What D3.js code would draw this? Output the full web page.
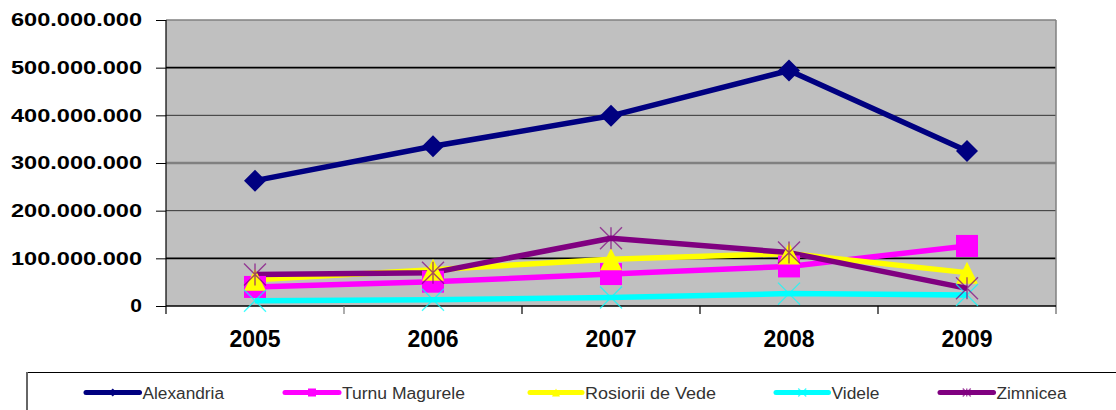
<!DOCTYPE html>
<html>
<head>
<meta charset="utf-8">
<script src="https://cdn.jsdelivr.net/npm/d3@7"></script>
<style>
  html, body { margin: 0; padding: 0; background: #ffffff; }
  svg { display: block; }
</style>
</head>
<body>
<svg id="chart" width="1116" height="410"></svg>
<script>
// ---- data ----
const years = ["2005", "2006", "2007", "2008", "2009"];
const alexandria = [263e6, 335e6, 399e6, 494e6, 325e6];
const turnuMagurele = [40e6, 51e6, 67e6, 83e6, 126e6];
const rosioriiDeVede = [55e6, 76e6, 98e6, 110e6, 70e6];
const videle = [11e6, 13e6, 18e6, 26e6, 23e6];
const zimnicea = [66e6, 70e6, 142e6, 112e6, 37e6];
const yTicks = [0, 100e6, 200e6, 300e6, 400e6, 500e6, 600e6];
const yTickLabels = ["0", "100.000.000", "200.000.000", "300.000.000", "400.000.000", "500.000.000", "600.000.000"];
const seriesNames = ["Alexandria", "Turnu Magurele", "Rosiorii de Vede", "Videle", "Zimnicea"];

const series = [
  { name: seriesNames[0], values: alexandria, color: "#000080", marker: "diamond" },
  { name: seriesNames[1], values: turnuMagurele, color: "#FF00FF", marker: "square" },
  { name: seriesNames[2], values: rosioriiDeVede, color: "#FFFF00", marker: "triangle" },
  { name: seriesNames[3], values: videle, color: "#00FFFF", marker: "x" },
  { name: seriesNames[4], values: zimnicea, color: "#800080", marker: "star" }
];

const svg = d3.select("#chart");
const plot = { left: 166, top: 20, right: 1056, bottom: 306 };

const x = d3.scaleBand().domain(years).range([plot.left, plot.right]).padding(0);
const y = d3.scaleLinear().domain([0, 600e6]).range([plot.bottom, plot.top]);
const cx = d => x(d) + x.bandwidth() / 2;

// plot background
svg.append("rect")
  .attr("x", plot.left).attr("y", plot.top)
  .attr("width", plot.right - plot.left).attr("height", plot.bottom - plot.top)
  .attr("fill", "#C0C0C0");

// gridlines
const gridStyle = {
  100e6: ["#000", 1.6], 200e6: ["#333", 1], 300e6: ["#808080", 2.5],
  400e6: ["#333", 1], 500e6: ["#000", 1.6], 600e6: ["#808080", 1.5]
};
svg.append("g").selectAll("line")
  .data(yTicks.filter(v => v > 0))
  .join("line")
  .attr("x1", plot.left).attr("x2", plot.right)
  .attr("y1", d => y(d)).attr("y2", d => y(d))
  .attr("stroke", d => gridStyle[d][0])
  .attr("stroke-width", d => gridStyle[d][1]);

// right border
svg.append("line")
  .attr("x1", plot.right).attr("x2", plot.right)
  .attr("y1", plot.top).attr("y2", plot.bottom + 8)
  .attr("stroke", "#808080").attr("stroke-width", 1.5);

// y axis
const yAxis = d3.axisLeft(y).tickValues(yTicks).tickSize(10).tickFormat((d, i) => yTickLabels[i]);
const gy = svg.append("g").attr("transform", `translate(${plot.left},0)`).call(yAxis);
gy.select(".domain").attr("stroke", "#000").attr("stroke-width", 1.2)
  .attr("d", `M0,${plot.top}V${plot.bottom + 8}`);
gy.selectAll(".tick line").attr("stroke", "#000");
gy.selectAll(".tick text")
  .attr("x", -24)
  .attr("font-family", "'Liberation Sans', Arial, sans-serif")
  .attr("font-weight", "bold")
  .attr("font-size", 18.5)
  .attr("fill", "#000")
  .each(function (d, i) {
    if (yTickLabels[i].length > 1) {
      d3.select(this).attr("textLength", 131).attr("lengthAdjust", "spacingAndGlyphs");
    } else {
      d3.select(this).attr("textLength", 11.7).attr("lengthAdjust", "spacingAndGlyphs");
    }
  });

// x axis
svg.append("line")
  .attr("x1", plot.left).attr("x2", plot.right)
  .attr("y1", plot.bottom).attr("y2", plot.bottom)
  .attr("stroke", "#000").attr("stroke-width", 1.5);
svg.append("g").selectAll("line")
  .data(years.slice(1))
  .join("line")
  .attr("x1", d => x(d)).attr("x2", d => x(d))
  .attr("y1", plot.bottom).attr("y2", plot.bottom + 8)
  .attr("stroke", (d, i) => i === 0 ? "#777" : "#000")
  .attr("stroke-width", 1.2);
svg.append("g").selectAll("text")
  .data(years)
  .join("text")
  .attr("x", d => cx(d))
  .attr("y", 347)
  .attr("text-anchor", "middle")
  .attr("font-family", "'Liberation Sans', Arial, sans-serif")
  .attr("font-weight", "bold")
  .attr("font-size", 23)
  .attr("fill", "#000")
  .text(d => d);

// marker drawing
function drawMarker(g, type, color, px, py, s) {
  const h = s / 2;
  if (type === "diamond") {
    g.append("path").attr("d", `M${px},${py - h}L${px + h},${py}L${px},${py + h}L${px - h},${py}Z`).attr("fill", color);
  } else if (type === "square") {
    g.append("rect").attr("x", px - h).attr("y", py - h).attr("width", s).attr("height", s).attr("fill", color);
  } else if (type === "triangle") {
    g.append("path").attr("d", `M${px},${py - h}L${px + h},${py + h}L${px - h},${py + h}Z`).attr("fill", color);
  } else if (type === "x") {
    g.append("path").attr("d", `M${px - h},${py - h}L${px + h},${py + h}M${px - h},${py + h}L${px + h},${py - h}`)
      .attr("stroke", color).attr("stroke-width", 1.3).attr("fill", "none").attr("opacity", 0.75);
  } else if (type === "star") {
    g.append("path").attr("d", `M${px - h},${py - h}L${px + h},${py + h}M${px - h},${py + h}L${px + h},${py - h}M${px},${py - h}L${px},${py + h}`)
      .attr("stroke", color).attr("stroke-width", 1.4).attr("fill", "none").attr("opacity", 0.7);
  }
}

// lines
const lineGen = d3.line().x((d, i) => cx(years[i])).y(d => y(d));
const gLines = svg.append("g");
series.forEach(s => {
  gLines.append("path")
    .datum(s.values)
    .attr("d", lineGen)
    .attr("fill", "none")
    .attr("stroke", s.color)
    .attr("stroke-width", 5.5)
    .attr("stroke-linejoin", "round");
});
// markers
const gMarkers = svg.append("g");
series.forEach(s => {
  s.values.forEach((v, i) => {
    drawMarker(gMarkers, s.marker, s.color, cx(years[i]), y(v), 22);
  });
});

// legend
const legend = svg.append("g");
legend.append("line").attr("x1", 27).attr("x2", 1116).attr("y1", 372.5).attr("y2", 372.5)
  .attr("stroke", "#000").attr("stroke-width", 1);
legend.append("line").attr("x1", 27).attr("x2", 27).attr("y1", 372).attr("y2", 410)
  .attr("stroke", "#666").attr("stroke-width", 2);

const legendLineX = [86, 285, 530, 776, 940];
const legendTextX = [142.5, 342, 585, 831.5, 996.5];
const legendTextW = [81.5, 123, 131, 48, 70];
const legendY = 392.5;
series.forEach((s, i) => {
  const gx = legendLineX[i];
  const lineEnd = legendTextX[i] - 3;
  legend.append("line")
    .attr("x1", gx).attr("x2", lineEnd)
    .attr("y1", legendY).attr("y2", legendY)
    .attr("stroke", s.color).attr("stroke-width", 5).attr("stroke-linecap", "round");
  drawMarker(legend, s.marker, s.color, (gx + lineEnd) / 2, legendY, 8);
  legend.append("text")
    .attr("x", legendTextX[i])
    .attr("y", legendY + 6)
    .attr("font-family", "'Liberation Sans', Arial, sans-serif")
    .attr("font-size", 16)
    .attr("fill", "#333")
    .attr("textLength", legendTextW[i])
    .attr("lengthAdjust", "spacingAndGlyphs")
    .text(s.name);
});
</script>
</body>
</html>
